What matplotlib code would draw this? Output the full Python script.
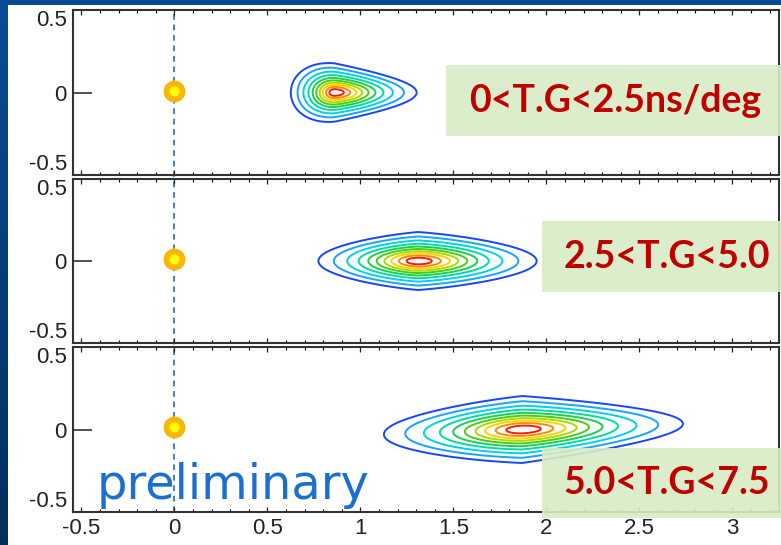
import numpy as np
import matplotlib
matplotlib.use("Agg")
import matplotlib.pyplot as plt
from matplotlib.patches import Rectangle
from matplotlib.lines import Line2D
from matplotlib.ticker import MultipleLocator
from matplotlib.colors import LinearSegmentedColormap
import matplotlib.transforms as mtransforms

# ---- data -------------------------------------------------------------
bin_labels = ["0<T.G<2.5ns/deg", "2.5<T.G<5.0", "5.0<T.G<7.5"]
# peak position and shape of each 2D distribution
peak_x = [0.86, 1.31, 1.87]
peak_y = [0.0, 0.0, 0.0]
sigma_left = [0.090, 0.206, 0.286]
sigma_right = [0.170, 0.245, 0.332]
sigma_y = [0.068, 0.068, 0.078]
taper_left = [-0.05, 0.12, 0.12]
taper_right = [0.22, 0.12, 0.2]
tilt = [0.0, 0.0, 0.04]
# reference point (origin)
ref_x = [0.0, 0.0, 0.0]
ref_y = [0.012, 0.012, 0.018]
contour_levels = [0.034, 0.089, 0.181, 0.301, 0.430, 0.558, 0.679, 0.783,
                  0.882, 0.956]
contour_colors = ["#1846ff", "#16a4ff", "#00d2e6", "#00dca0", "#18d050",
                  "#48cc18", "#a8dc00", "#ffd200", "#ff8c00", "#ff1a00"]
x_ticks = [-0.5, 0, 0.5, 1, 1.5, 2, 2.5, 3]
y_ticks = [-0.5, 0, 0.5]

# ---- figure -----------------------------------------------------------
W, H = 781, 545
fig = plt.figure(figsize=(W / 100, H / 100), dpi=100)

# slide background: blue with a white canvas
bg = fig.add_axes([0, 0, 1, 1], zorder=-10)
grad = np.linspace(0, 1, 256).reshape(-1, 1)
bgcmap = LinearSegmentedColormap.from_list("bg", ["#0a4c98", "#02305e"])
bg.imshow(grad, aspect="auto", cmap=bgcmap, extent=[0, 1, 0, 1], origin="upper")
bg.add_patch(Rectangle((8 / W, 0), 1, 1 - 5 / H, facecolor="white",
                       edgecolor="none"))
bg.set_xlim(0, 1)
bg.set_ylim(0, 1)
bg.axis("off")

# panel geometry (pixels from top)
left_px, right_px = 73, 779
panels_px = [(10, 175), (179, 343), (347, 512)]

xg = np.linspace(-0.6, 3.3, 900)
yg = np.linspace(-0.55, 0.55, 400)
X, Y = np.meshgrid(xg, yg)


def density(i):
    dx = X - peak_x[i]
    u = np.where(dx < 0, dx / sigma_left[i], dx / sigma_right[i])
    tap = np.where(dx < 0, 1 + taper_left[i] * np.abs(u),
                   1 + taper_right[i] * np.abs(u))
    v = (Y - peak_y[i] - tilt[i] * dx) / sigma_y[i] * tap
    return np.exp(-0.5 * (u ** 2 + v ** 2))


tick_font = {"family": "Liberation Sans", "size": 16, "color": "#222222"}
axes = []
for i, (top, bot) in enumerate(panels_px):
    ax = fig.add_axes([left_px / W, 1 - bot / H, (right_px - left_px) / W,
                       (bot - top) / H])
    ax.set_facecolor("none")
    ax.set_xlim(-0.545, 3.25)
    ax.set_ylim(-0.5, 0.5)
    ax.contour(X, Y, density(i), levels=contour_levels,
               colors=contour_colors, linewidths=1.4, zorder=3)
    ax.plot(ref_x[i], ref_y[i], "o", ms=11.5, mfc="#ffff00", mec="#ffb400",
            mew=4.2, zorder=5)

    ax.set_xticks(x_ticks)
    ax.xaxis.set_minor_locator(MultipleLocator(0.1))
    ax.set_yticks(y_ticks)
    ax.tick_params(axis="x", which="major", direction="in", length=3.6,
                   width=0.9, top=True, bottom=True, pad=4, colors="#222222")
    ax.tick_params(axis="x", which="minor", direction="in", length=2,
                   width=0.8, top=True, bottom=True)
    ax.tick_params(axis="y", which="major", direction="in", length=14,
                   width=1.1, pad=4.5, colors="#222222")
    ax.set_yticklabels(["-0.5", "0", "0.5"], fontdict=tick_font)
    ylabs = ax.get_yticklabels()
    ylabs[0].set_va("bottom")
    ylabs[2].set_va("top")
    if i < 2:
        ax.set_xticklabels([])
    else:
        ax.set_xticklabels(["-0.5", "0", "0.5", "1", "1.5", "2", "2.5", "3"],
                           fontdict=tick_font)
    for sp in ax.spines.values():
        sp.set_linewidth(1.5)
        sp.set_color("#333333")
        sp.set_zorder(6)
    axes.append(ax)

# dashed vertical line at x = 0 running through all panels (behind the markers)
trans = mtransforms.blended_transform_factory(axes[2].transData, fig.transFigure)
fig.add_artist(Line2D([0, 0], [1 - 512 / H, 1 - 10 / H], transform=trans,
                      color="#3a76c0", lw=1.3, dashes=(3.2, 2.6), zorder=-1))

# bin labels in green boxes
boxes_px = [(446, 65, 136), (542, 221, 292), (542, 448, 518)]
text_centers = [(615, 101), (667, 257), (667, 483)]
for lab, (bx, btop, bbot), (tx, ty) in zip(bin_labels, boxes_px, text_centers):
    fig.add_artist(Rectangle((bx / W, 1 - bbot / H), (W - bx) / W,
                             (bbot - btop) / H, facecolor="#d9ecc6",
                             edgecolor="none", alpha=0.9, zorder=1))
    fig.text(tx / W, 1 - ty / H, lab, ha="center", va="center",
             family="Lato", weight="bold", fontsize=27, color="#c00000",
             zorder=10)

fig.text(97 / W, 1 - 499 / H, "preliminary", ha="left", va="baseline",
         family="DejaVu Sans", fontsize=34.5, color="#1a6fd0", zorder=10)

fig.savefig("out.png", dpi=100)
